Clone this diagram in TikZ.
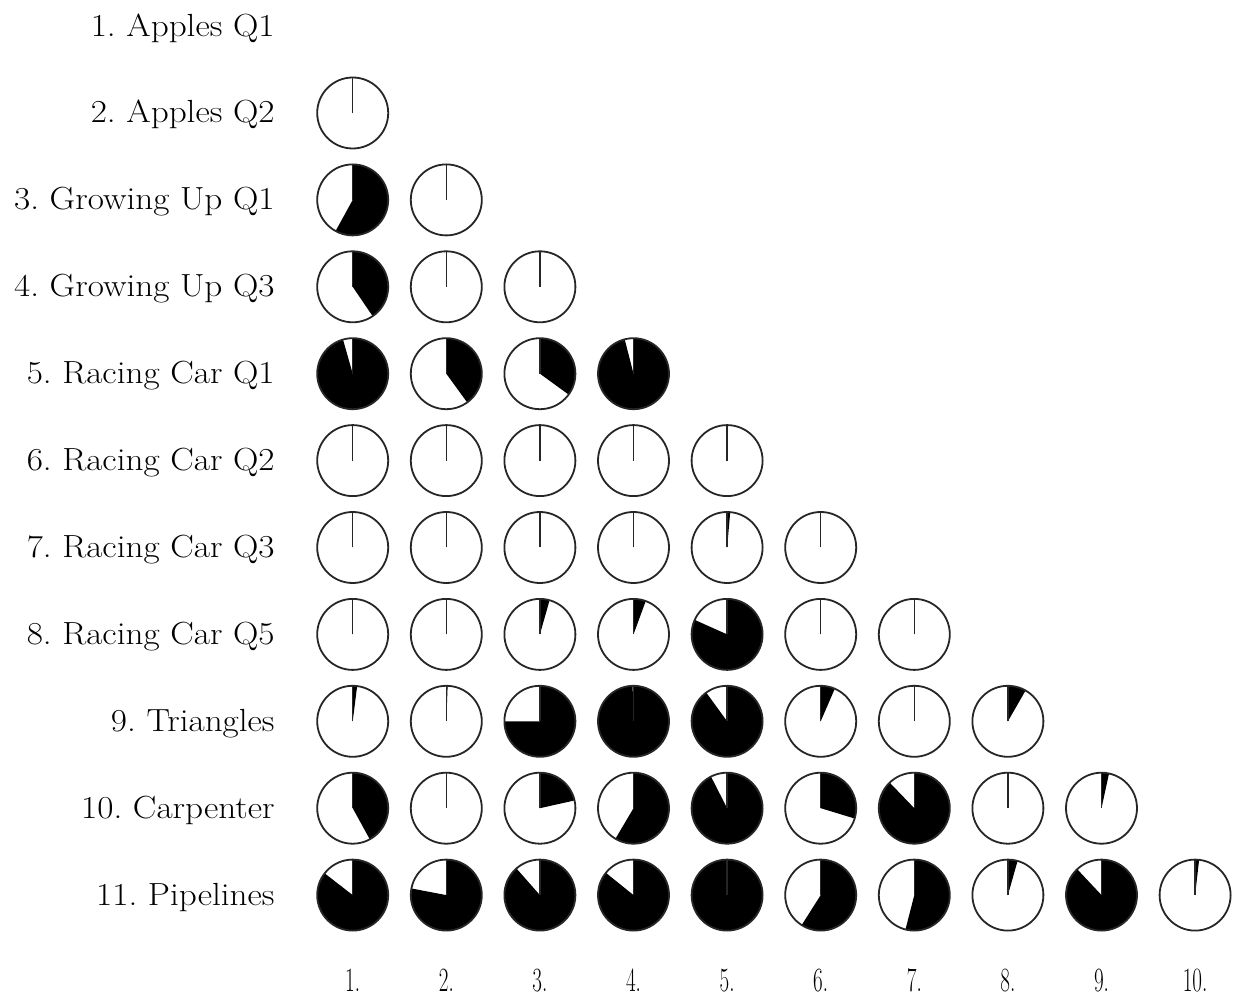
\documentclass[tikz,border=0pt]{standalone}
\usepackage{graphicx}
\begin{document}
\frenchspacing
\begin{tikzpicture}[x=0.5pt,y=0.5pt,
  pie/.style={circle, draw=black!85, line width=0.9pt, minimum size=35.5pt, inner sep=0pt},
  zeroline/.style={line width=0.75pt, draw=black!85},
  rowlab/.style={anchor=base east, inner sep=0pt, font=\fontsize{16}{19}\selectfont},
  collab/.style={anchor=base, inner sep=0pt, font=\fontsize{17}{20}\selectfont}]
\fill[white] (0,0) rectangle (1239,998);
\useasboundingbox (0,0) rectangle (1239,998);
% row labels
\foreach \r/\t in {1/{1. Apples Q1},2/{2. Apples Q2},3/{3. Growing Up Q1},4/{4. Growing Up Q3},
  5/{5. Racing Car Q1},6/{6. Racing Car Q2},7/{7. Racing Car Q3},8/{8. Racing Car Q5},
  9/{9. Triangles},10/{10. Carpenter},11/{11. Pipelines}}{
  \pgfmathsetmacro\yy{885-(\r-2)*86.9-10}
  \node[rowlab] (lab-\r) at (275,\yy) {\scalebox{1.1}[1]{\t}};
}
% column labels
\foreach \c in {1,...,10}{
  \pgfmathsetmacro\xx{352.7+(\c-1)*93.6}
  \node[collab] (col-\c) at (\xx,6.3) {\scalebox{0.62}[1]{\c.}};
}
% pies
\foreach \r/\vals in {2/{0},3/{0.58,0},4/{0.405,0,0.005},5/{0.956,0.40,0.35,0.96},
  6/{0,0,0,0,0},7/{0,0,0,0,0.014,0},8/{0,0,0.044,0.056,0.817,0,0},
  9/{0.02,0.006,0.75,0.996,0.90,0.065,0,0.083},
  10/{0.42,0,0.215,0.585,0.925,0.297,0.878,0,0.034},
  11/{0.855,0.78,0.885,0.858,0.998,0.59,0.54,0.044,0.88,0.018}}{
  \pgfmathsetmacro\yy{885-(\r-2)*86.9}
  \foreach \f [count=\c] in \vals {
    \pgfmathsetmacro\xx{352.7+(\c-1)*93.6}
    \pgfmathsetmacro\ea{90-360*\f}
    \coordinate (o-\r-\c) at (\xx,\yy);
    \fill[black] (o-\r-\c) -- ++(0,17.75pt) arc[start angle=90,end angle=\ea,radius=17.75pt] -- cycle;
    \draw[zeroline] (o-\r-\c) -- ++(0,17.75pt);
    \node[pie] (p-\r-\c) at (o-\r-\c) {};
  }
}
\end{tikzpicture}
\end{document}
